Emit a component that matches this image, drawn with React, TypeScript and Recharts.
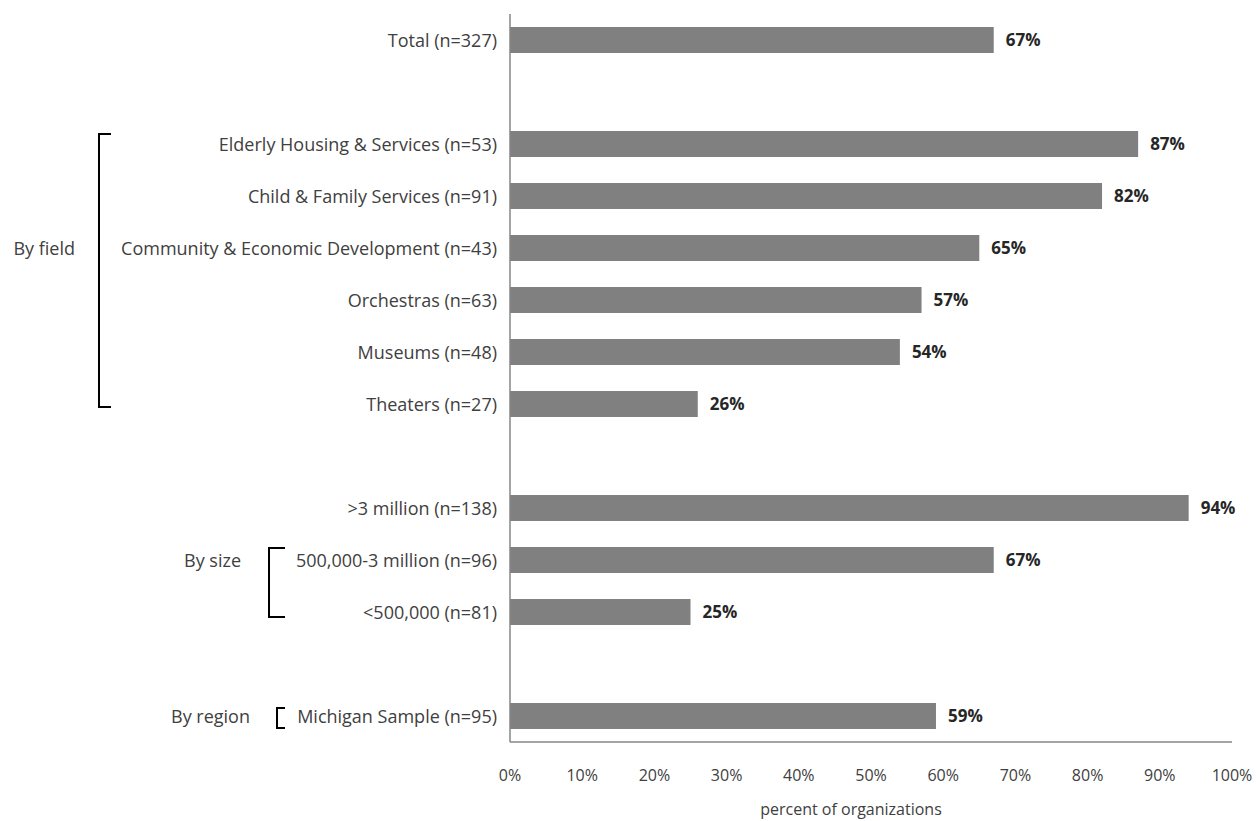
import React from "react";
import { BarChart, Bar, XAxis, YAxis, LabelList } from "recharts";

const categories = [
  "Total (n=327)",
  "gap1",
  "Elderly Housing & Services (n=53)",
  "Child & Family Services (n=91)",
  "Community & Economic Development (n=43)",
  "Orchestras (n=63)",
  "Museums (n=48)",
  "Theaters (n=27)",
  "gap2",
  ">3 million (n=138)",
  "500,000-3 million (n=96)",
  "<500,000 (n=81)",
  "gap3",
  "Michigan Sample (n=95)",
];

const values: (number | null)[] = [67, null, 87, 82, 65, 57, 54, 26, null, 94, 67, 25, null, 59];

const xTicks = [0, 10, 20, 30, 40, 50, 60, 70, 80, 90, 100];

// group brackets: label, first and last category it spans, category the label sits on
const groups = [
  { label: "By field", from: "Elderly Housing & Services (n=53)", to: "Theaters (n=27)", at: "Community & Economic Development (n=43)", x: 99, labelX: 75, top: -10, bottom: 3, tick: 12 },
  { label: "By size", from: "500,000-3 million (n=96)", to: "<500,000 (n=81)", at: "500,000-3 million (n=96)", x: 269, labelX: 241, top: -12, bottom: 5, tick: 16 },
  { label: "By region", from: "Michigan Sample (n=95)", to: "Michigan Sample (n=95)", at: "Michigan Sample (n=95)", x: 277, labelX: 250, top: -8, bottom: 12, tick: 8 },
];

const data = categories.map((c, i) => ({ name: c, value: values[i] }));

const W = 1256;
const H = 821;
const TOP = 14;
const BOTTOM = 742;
const BAND = (BOTTOM - TOP) / categories.length;
const FONT = "'Open Sans', sans-serif";
const TEXT = "#404040";

function CategoryTick({ x, y, payload }: any) {
  const name: string = payload.value;
  const parts: React.ReactNode[] = [];
  if (!name.startsWith("gap")) {
    parts.push(
      <text key="t" x={x - 5} y={y} textAnchor="end" dominantBaseline="central" fontSize={18} fill={TEXT} fontFamily={FONT}>
        {name}
      </text>
    );
  }
  groups.forEach((g, gi) => {
    const fi = categories.indexOf(g.from);
    const ti = categories.indexOf(g.to);
    if (name === g.from) {
      const y1 = y + g.top;
      const y2 = y + (ti - fi) * BAND + g.bottom;
      parts.push(
        <path
          key={"b" + gi}
          d={`M${g.x + g.tick},${y1} H${g.x} V${y2} H${g.x + g.tick}`}
          fill="none"
          stroke="#000"
          strokeWidth={2}
        />
      );
    }
    if (name === g.at) {
      parts.push(
        <text key={"g" + gi} x={g.labelX} y={y} textAnchor="end" dominantBaseline="central" fontSize={18} fill={TEXT} fontFamily={FONT}>
          {g.label}
        </text>
      );
    }
  });
  return <g>{parts}</g>;
}

function PercentTick({ x, y, payload }: any) {
  return (
    <text x={x} y={y + 25} textAnchor="middle" dominantBaseline="central" fontSize={16} fill={TEXT} fontFamily={FONT}>
      {payload.value + "%"}
    </text>
  );
}

function AxisTitle({ viewBox }: any) {
  const cx = viewBox.x + viewBox.width / 2 - 20;
  return (
    <text x={cx} y={BOTTOM + 67} textAnchor="middle" dominantBaseline="central" fontSize={16} fill={TEXT} fontFamily={FONT}>
      percent of organizations
    </text>
  );
}

export default function App() {
  return (
    <div style={{ position: "absolute", left: 0, top: 0, background: "#fff" }}>
      <BarChart
        width={W}
        height={H}
        data={data}
        layout="vertical"
        margin={{ top: TOP, right: 24, left: 0, bottom: 0 }}
        barSize={26}
      >
        <XAxis
          type="number"
          domain={[0, 100]}
          ticks={xTicks}
          interval={0}
          height={H - BOTTOM}
          axisLine={{ stroke: "#868686", strokeWidth: 1.5 }}
          tickLine={false}
          tick={<PercentTick />}
          label={<AxisTitle />}
        />
        <YAxis
          type="category"
          dataKey="name"
          width={510}
          interval={0}
          axisLine={{ stroke: "#868686", strokeWidth: 1.5 }}
          tickLine={false}
          tick={<CategoryTick />}
        />
        <Bar dataKey="value" fill="#808080" isAnimationActive={false}>
          <LabelList
            dataKey="value"
            position="right"
            offset={12}
            formatter={(v: any) => (v == null ? "" : v + "%")}
            style={{ fontSize: 17, fontWeight: 700, fill: "#262626", fontFamily: FONT }}
          />
        </Bar>
      </BarChart>
    </div>
  );
}
